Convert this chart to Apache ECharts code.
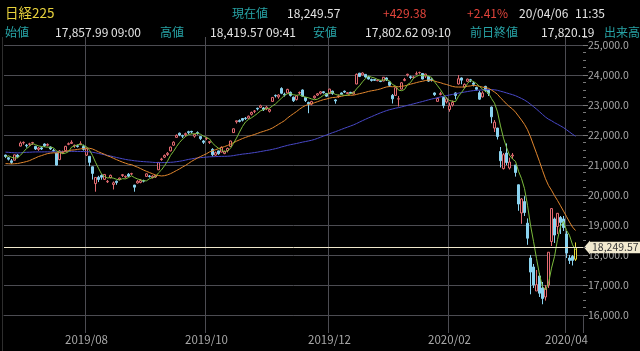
<!DOCTYPE html>
<html><head><meta charset="utf-8">
<script src="https://cdn.jsdelivr.net/npm/echarts@6/dist/echarts.min.js"></script>
<style>html,body{margin:0;padding:0;background:#000;}#c{width:640px;height:351px;}</style>
</head><body><div id="c"></div>
<script>
// ---- header texts ----
const headerRow1 = ['日経225', '現在値', '18,249.57', '+429.38', '+2.41%', '20/04/06', '11:35'];
const headerRow2 = ['始値', '17,857.99 09:00', '高値', '18,419.57 09:41', '安値', '17,802.62 09:10', '前日終値', '17,820.19', '出来高'];

// ---- trading days ----
const dates = [
'2019/06/24','2019/06/25','2019/06/26','2019/06/27','2019/06/28',
'2019/07/01','2019/07/02','2019/07/03','2019/07/04','2019/07/05','2019/07/08','2019/07/09','2019/07/10','2019/07/11','2019/07/12','2019/07/16','2019/07/17','2019/07/18','2019/07/19','2019/07/22','2019/07/23','2019/07/24','2019/07/25','2019/07/26','2019/07/29','2019/07/30','2019/07/31',
'2019/08/01','2019/08/02','2019/08/05','2019/08/06','2019/08/07','2019/08/08','2019/08/09','2019/08/13','2019/08/14','2019/08/15','2019/08/16','2019/08/19','2019/08/20','2019/08/21','2019/08/22','2019/08/23','2019/08/26','2019/08/27','2019/08/28','2019/08/29','2019/08/30',
'2019/09/02','2019/09/03','2019/09/04','2019/09/05','2019/09/06','2019/09/09','2019/09/10','2019/09/11','2019/09/12','2019/09/13','2019/09/17','2019/09/18','2019/09/19','2019/09/20','2019/09/24','2019/09/25','2019/09/26','2019/09/27','2019/09/30',
'2019/10/01','2019/10/02','2019/10/03','2019/10/04','2019/10/07','2019/10/08','2019/10/09','2019/10/10','2019/10/11','2019/10/15','2019/10/16','2019/10/17','2019/10/18','2019/10/21','2019/10/23','2019/10/24','2019/10/25','2019/10/28','2019/10/29','2019/10/30','2019/10/31',
'2019/11/01','2019/11/05','2019/11/06','2019/11/07','2019/11/08','2019/11/11','2019/11/12','2019/11/13','2019/11/14','2019/11/15','2019/11/18','2019/11/19','2019/11/20','2019/11/21','2019/11/22','2019/11/25','2019/11/26','2019/11/27','2019/11/28','2019/11/29',
'2019/12/02','2019/12/03','2019/12/04','2019/12/05','2019/12/06','2019/12/09','2019/12/10','2019/12/11','2019/12/12','2019/12/13','2019/12/16','2019/12/17','2019/12/18','2019/12/19','2019/12/20','2019/12/23','2019/12/24','2019/12/25','2019/12/26','2019/12/27','2019/12/30',
'2020/01/06','2020/01/07','2020/01/08','2020/01/09','2020/01/10','2020/01/14','2020/01/15','2020/01/16','2020/01/17','2020/01/20','2020/01/21','2020/01/22','2020/01/23','2020/01/24','2020/01/27','2020/01/28','2020/01/29','2020/01/30','2020/01/31',
'2020/02/03','2020/02/04','2020/02/05','2020/02/06','2020/02/07','2020/02/10','2020/02/12','2020/02/13','2020/02/14','2020/02/17','2020/02/18','2020/02/19','2020/02/20','2020/02/21','2020/02/25','2020/02/26','2020/02/27','2020/02/28',
'2020/03/02','2020/03/03','2020/03/04','2020/03/05','2020/03/06','2020/03/09','2020/03/10','2020/03/11','2020/03/12','2020/03/13','2020/03/16','2020/03/17','2020/03/18','2020/03/19','2020/03/23','2020/03/24','2020/03/25','2020/03/26','2020/03/27','2020/03/30','2020/03/31',
'2020/04/01','2020/04/02','2020/04/03','2020/04/06'
];

const opens = [
21330,21242,21138,21160,21330,
21630,21740,21660,21690,21730,21620,21520,21570,21700,21660,21600,21480,21400,21180,21400,21480,21690,21720,21640,21640,21680,21620,
21330,21290,20940,20380,20590,20650,20520,20440,20580,20350,20460,20520,20650,20600,20690,20700,20330,20400,20420,20480,20620,
20630,20580,20600,20840,21180,21260,21350,21470,21660,21920,22060,21980,22010,22110,22120,21960,22080,21950,21800,
21880,21750,21520,21330,21470,21430,21380,21480,21620,22080,22440,22480,22550,22560,22560,22690,22790,22890,22920,22900,22870,
22790,23120,23320,23270,23550,23360,23400,23420,23260,23180,23400,23500,23250,23080,23030,23240,23330,23390,23440,23380,
23380,23460,23170,23280,23400,23460,23380,23420,23370,23700,24060,24000,24020,23930,23850,23850,23810,23800,23800,23900,23770,
23320,23320,23200,23530,23820,24000,23940,23920,24030,24080,24050,23960,23950,23860,23400,23120,23350,23250,23100,
22850,23000,23400,23700,23900,23600,23790,23840,23730,23580,23410,23270,23620,23490,22930,22230,22230,21450,
20880,21400,20900,21300,21000,20340,19400,19780,19060,17900,17600,16800,17300,16900,16600,17000,18450,19200,18950,19250,19200,
18700,17900,17950,17857.99
];
const highs = [
21346,21260,21200,21350,21360,
21784,21784,21700,21740,21770,21640,21600,21610,21720,21720,21620,21540,21410,21500,21480,21640,21750,21823,21680,21680,21790,21680,
21570,21300,20950,20600,20640,20690,20700,20500,20680,20450,20480,20580,20700,20650,20730,20740,20340,20500,20530,20510,20720,
20660,20660,20670,21100,21240,21350,21430,21610,21790,22020,22080,22010,22080,22140,22140,22040,22120,21960,21830,
21940,21800,21560,21450,21480,21620,21480,21580,21810,22220,22480,22520,22560,22600,22650,22780,22830,22910,23010,22930,22970,
22880,23260,23350,23360,23591,23410,23540,23450,23280,23330,23450,23520,23270,23110,23140,23320,23400,23460,23460,23400,
23540,23480,23200,23350,23420,23480,23430,23440,23450,24050,24070,24091,24030,23960,23880,23870,23860,23810,23930,23920,23780,
23366,23577,23300,23767,23903,24041,23980,23960,24115,24110,24060,24040,23960,23890,23420,23250,23440,23280,23260,
23080,23150,23420,23995,23920,23720,23880,23870,23780,23610,23480,23460,23640,23510,22950,22500,22240,21600,
21400,21719,21245,21400,21000,20350,19900,19960,19220,18000,17700,17500,17400,17100,17000,18100,19564,19250,19400,19300,19300,
18800,18000,18000,18419.57
];
const lows = [
21230,21150,21036,21150,21240,
21620,21680,21580,21640,21670,21500,21470,21500,21600,21620,21500,21440,20980,21160,21370,21460,21660,21700,21570,21580,21660,21480,
21300,20960,20514,20110,20430,20510,20500,20400,20550,20184,20340,20490,20600,20560,20600,20660,20110,20380,20390,20420,20600,
20580,20550,20570,20830,21140,21230,21300,21450,21640,21910,21960,21900,21950,22030,22050,21910,22010,21830,21700,
21830,21700,21280,21300,21340,21420,21360,21420,21600,22070,22380,22420,22450,22500,22540,22650,22730,22820,22900,22800,22830,
22750,23110,23250,23210,23360,23280,23380,23280,23100,23150,23350,23270,23100,22726,22990,23210,23300,23350,23380,23270,
23370,23340,23044,23240,23330,23400,23360,23370,23350,23690,23930,23990,23910,23850,23780,23800,23790,23760,23790,23800,23600,
23050,23300,22951,23520,23790,23950,23860,23870,24000,24040,23850,23900,23770,23780,23300,23115,23320,22892,23050,
22775,22950,23190,23680,23690,23560,23760,23760,23620,23480,23170,23250,23430,23300,22390,22100,21850,20916,
20849,21000,20850,21200,20613,19474,19040,19300,18340,16690,16900,16800,16600,16358,16480,16900,18300,18400,18700,18700,18800,
17900,17700,17650,17802.62
];
const closes = [
21285.99,21193.81,21086.59,21338.17,21275.92,
21729.97,21754.27,21638.16,21702.45,21746.38,21534.35,21565.15,21533.48,21643.53,21685.90,21535.25,21469.18,20995.74,21466.99,21416.79,21620.88,21709.57,21756.55,21658.15,21616.80,21709.31,21521.53,
21540.99,21087.16,20720.29,20585.31,20516.56,20593.35,20684.82,20455.44,20655.13,20405.65,20418.81,20563.16,20677.22,20618.57,20628.01,20710.91,20261.04,20456.08,20479.42,20460.93,20704.37,
20620.19,20625.16,20649.14,21085.94,21199.57,21318.42,21392.10,21597.76,21759.61,21988.29,22001.32,21960.71,22044.45,22079.09,22098.84,22020.15,22048.24,21878.90,21755.84,
21885.24,21778.61,21341.74,21410.20,21375.25,21587.78,21456.38,21551.98,21798.87,22207.21,22472.92,22451.86,22492.68,22548.90,22625.38,22750.60,22799.81,22867.27,22974.13,22843.12,22927.04,
22850.77,23251.99,23303.82,23330.32,23391.87,23331.84,23520.01,23319.87,23141.55,23303.32,23416.76,23292.65,23148.57,23038.58,23112.88,23292.81,23373.32,23437.77,23409.14,23293.91,
23529.50,23379.81,23135.23,23300.09,23354.40,23430.70,23410.19,23391.86,23424.81,24023.10,23952.35,24066.12,23934.43,23864.85,23816.63,23821.11,23830.58,23782.87,23924.92,23837.72,23656.62,
23204.86,23575.72,23204.76,23739.87,23850.57,24025.17,23916.58,23933.13,24041.26,24083.51,23864.56,24031.35,23795.44,23827.18,23343.51,23215.71,23379.40,22977.75,23205.18,
22971.94,23084.59,23319.56,23873.59,23827.98,23685.98,23861.21,23827.73,23687.59,23523.24,23193.80,23400.70,23479.15,23386.74,22605.41,22426.19,21948.23,21142.96,
21344.08,21082.73,21100.06,21329.12,20749.75,19698.76,19867.12,19416.06,18559.63,17431.05,17002.04,17011.53,16726.55,16552.83,16887.78,18092.35,19546.63,18664.60,19389.43,19084.97,18917.01,
18065.41,17818.72,17820.19,18249.57
];
// closes before the first visible day (for the moving averages)
const historyCloses = [
21602.69,21822.04,21726.28,21596.81,21456.01,21025.56,21125.09,21503.69,21290.24,21287.02,21450.85,21584.50,21566.85,21608.92,21627.34,20977.11,21428.39,21378.21,21033.76,21205.81,
21509.03,21505.31,21713.21,21724.95,21807.50,21761.65,21802.59,21687.57,21711.38,21870.56,22169.11,22221.66,22277.97,22090.12,22200.00,22217.90,22259.74,22200.56,22307.58,22258.73,
21923.72,21602.59,21402.13,21344.92,21191.28,21067.23,21188.56,21062.98,21250.09,21301.73,21272.45,21283.37,21151.14,21117.22,21182.58,21260.14,21003.37,20942.53,20601.19,
20410.88,20408.54,20776.10,20774.04,20884.71,21134.42,21204.28,21129.72,21032.00,21116.89,21124.00,20972.71,21333.87,21462.86,21258.64
];
const maPeriods = [5, 25, 75];
const currentPrice = 18249.57;

// ---- build ----
const allCloses = historyCloses.concat(closes);
const H = historyCloses.length;
function movingAvg(n) {
  return closes.map((_, i) => {
    const end = H + i;
    if (end - n + 1 < 0) return '-';
    let s = 0;
    for (let k = end - n + 1; k <= end; k++) s += allCloses[k];
    return +(s / n).toFixed(2);
  });
}
const last = dates.length - 1;
const candleData = dates.map((d, i) => {
  const item = { value: [opens[i], closes[i], lows[i], highs[i]] };
  if (i === last) item.itemStyle = { color: '#000', borderColor: '#e6d83a', color0: '#000', borderColor0: '#e6d83a' };
  return item;
});
function isLabelMonth(idx) {
  if (idx <= 0 || idx > last) return false;
  const m = dates[idx].slice(5, 7), pm = dates[idx - 1].slice(5, 7);
  return m !== pm && (+m) % 2 === 0;
}
const fmt = (v, d) => v.toLocaleString('en-US', { minimumFractionDigits: d, maximumFractionDigits: d });

const GRID = '#4c4c52';
const teal = '#27a3a6', white = '#e4e4e4', red = '#e2443b';
const font12 = '12px "Noto Sans CJK JP", sans-serif';
const header = [];
const r1x = [5, 232, 287, 383, 467, 519, 575];
const r1c = ['#e8d23c', teal, white, red, red, white, white];
headerRow1.forEach((t, i) => header.push({ type: 'text', x: r1x[i], y: 13, style: { text: t, fill: r1c[i], font: i === 0 ? '13.5px "Noto Sans CJK JP", sans-serif' : font12, verticalAlign: 'middle' } }));
const r2x = [5, 55, 160, 210, 313, 365, 470, 541, 604];
const r2c = [teal, white, teal, white, teal, white, teal, white, teal];
headerRow2.forEach((t, i) => header.push({ type: 'text', x: r2x[i], y: 32, style: { text: t, fill: r2c[i], font: font12, verticalAlign: 'middle' } }));
header.push({ type: 'line', shape: { x1: 2.5, y1: 37, x2: 2.5, y2: 351 }, style: { stroke: '#2e2e2e', lineWidth: 1 } });

const ySplitColors = [];
for (let v = 16000; v <= 25000; v += 1000) ySplitColors.push(GRID);
ySplitColors.push('rgba(0,0,0,0)');
// month lines, then the band end boundary (hidden)
const xSplitColors = [];
dates.forEach((d, i) => { if (isLabelMonth(i)) xSplitColors.push(GRID); });
xSplitColors.push('rgba(0,0,0,0)');

const chart = echarts.init(document.getElementById('c'));
chart.setOption({
  animation: false,
  backgroundColor: '#000',
  graphic: header,
  grid: { left: 4, right: 57, top: 37, bottom: 36 },
  xAxis: {
    type: 'category', data: dates, boundaryGap: true, max: dates.length + 1,
    axisLine: { show: true, lineStyle: { color: GRID } },
    axisTick: { show: true, interval: isLabelMonth, length: 18, lineStyle: { color: GRID } },
    splitLine: { show: true, interval: isLabelMonth, lineStyle: { color: xSplitColors } },
    axisLabel: { interval: isLabelMonth, formatter: v => v ? v.slice(0, 7) : '', color: '#a8a8a8', fontSize: 11.5, margin: 19, fontFamily: 'Noto Sans CJK JP' }
  },
  yAxis: {
    type: 'value', position: 'right', min: 16000, max: 25266, interval: 1000, scale: true,
    axisLine: { show: false },
    axisTick: { show: true, length: 5, lineStyle: { color: '#777' } },
    minorTick: { show: true, splitNumber: 4, length: 3, lineStyle: { color: '#777' } },
    splitLine: { show: true, lineStyle: { color: ySplitColors } },
    axisLabel: { showMaxLabel: false, formatter: v => fmt(v, 1), color: '#a8a8a8', fontSize: 10.5, margin: 5, fontFamily: 'Noto Sans CJK JP' }
  },
  series: [
    {
      type: 'candlestick', data: candleData, barWidth: 2.6,
      itemStyle: { color: '#000', color0: '#8ad3ef', borderColor: '#e36a70', borderColor0: '#8ad3ef', borderWidth: 1 },
      markLine: {
        symbol: 'none', silent: true, animation: false,
        lineStyle: { color: '#f0e8cc', width: 1, type: 'solid' },
        label: { show: true, position: 'end', distance: 7, formatter: p => fmt(p.value, 2), backgroundColor: '#f2ead0', color: '#3a3a3a', padding: [1, 2, 0, 2], fontSize: 10.5, fontFamily: 'Noto Sans CJK JP' },
        data: [{ yAxis: currentPrice }]
      }
    },
    { type: 'line', data: movingAvg(maPeriods[2]), symbol: 'none', lineStyle: { color: '#4848c8', width: 1 } },
    { type: 'line', data: movingAvg(maPeriods[1]), symbol: 'none', lineStyle: { color: '#e2872e', width: 1 } },
    { type: 'line', data: movingAvg(maPeriods[0]), symbol: 'none', lineStyle: { color: '#7cbc3c', width: 1 } }
  ]
});
const py = chart.convertToPixel({ yAxisIndex: 0 }, currentPrice);
const gx = chart.convertToPixel({ xAxisIndex: 0 }, dates.length + 1) + 1.5;
chart.setOption({ graphic: header.concat([{ type: 'polygon', shape: { points: [[gx + 1, py], [gx + 7, py - 7], [gx + 7, py + 7]] }, style: { fill: '#f2ead0' } }]) });
</script></body></html>
